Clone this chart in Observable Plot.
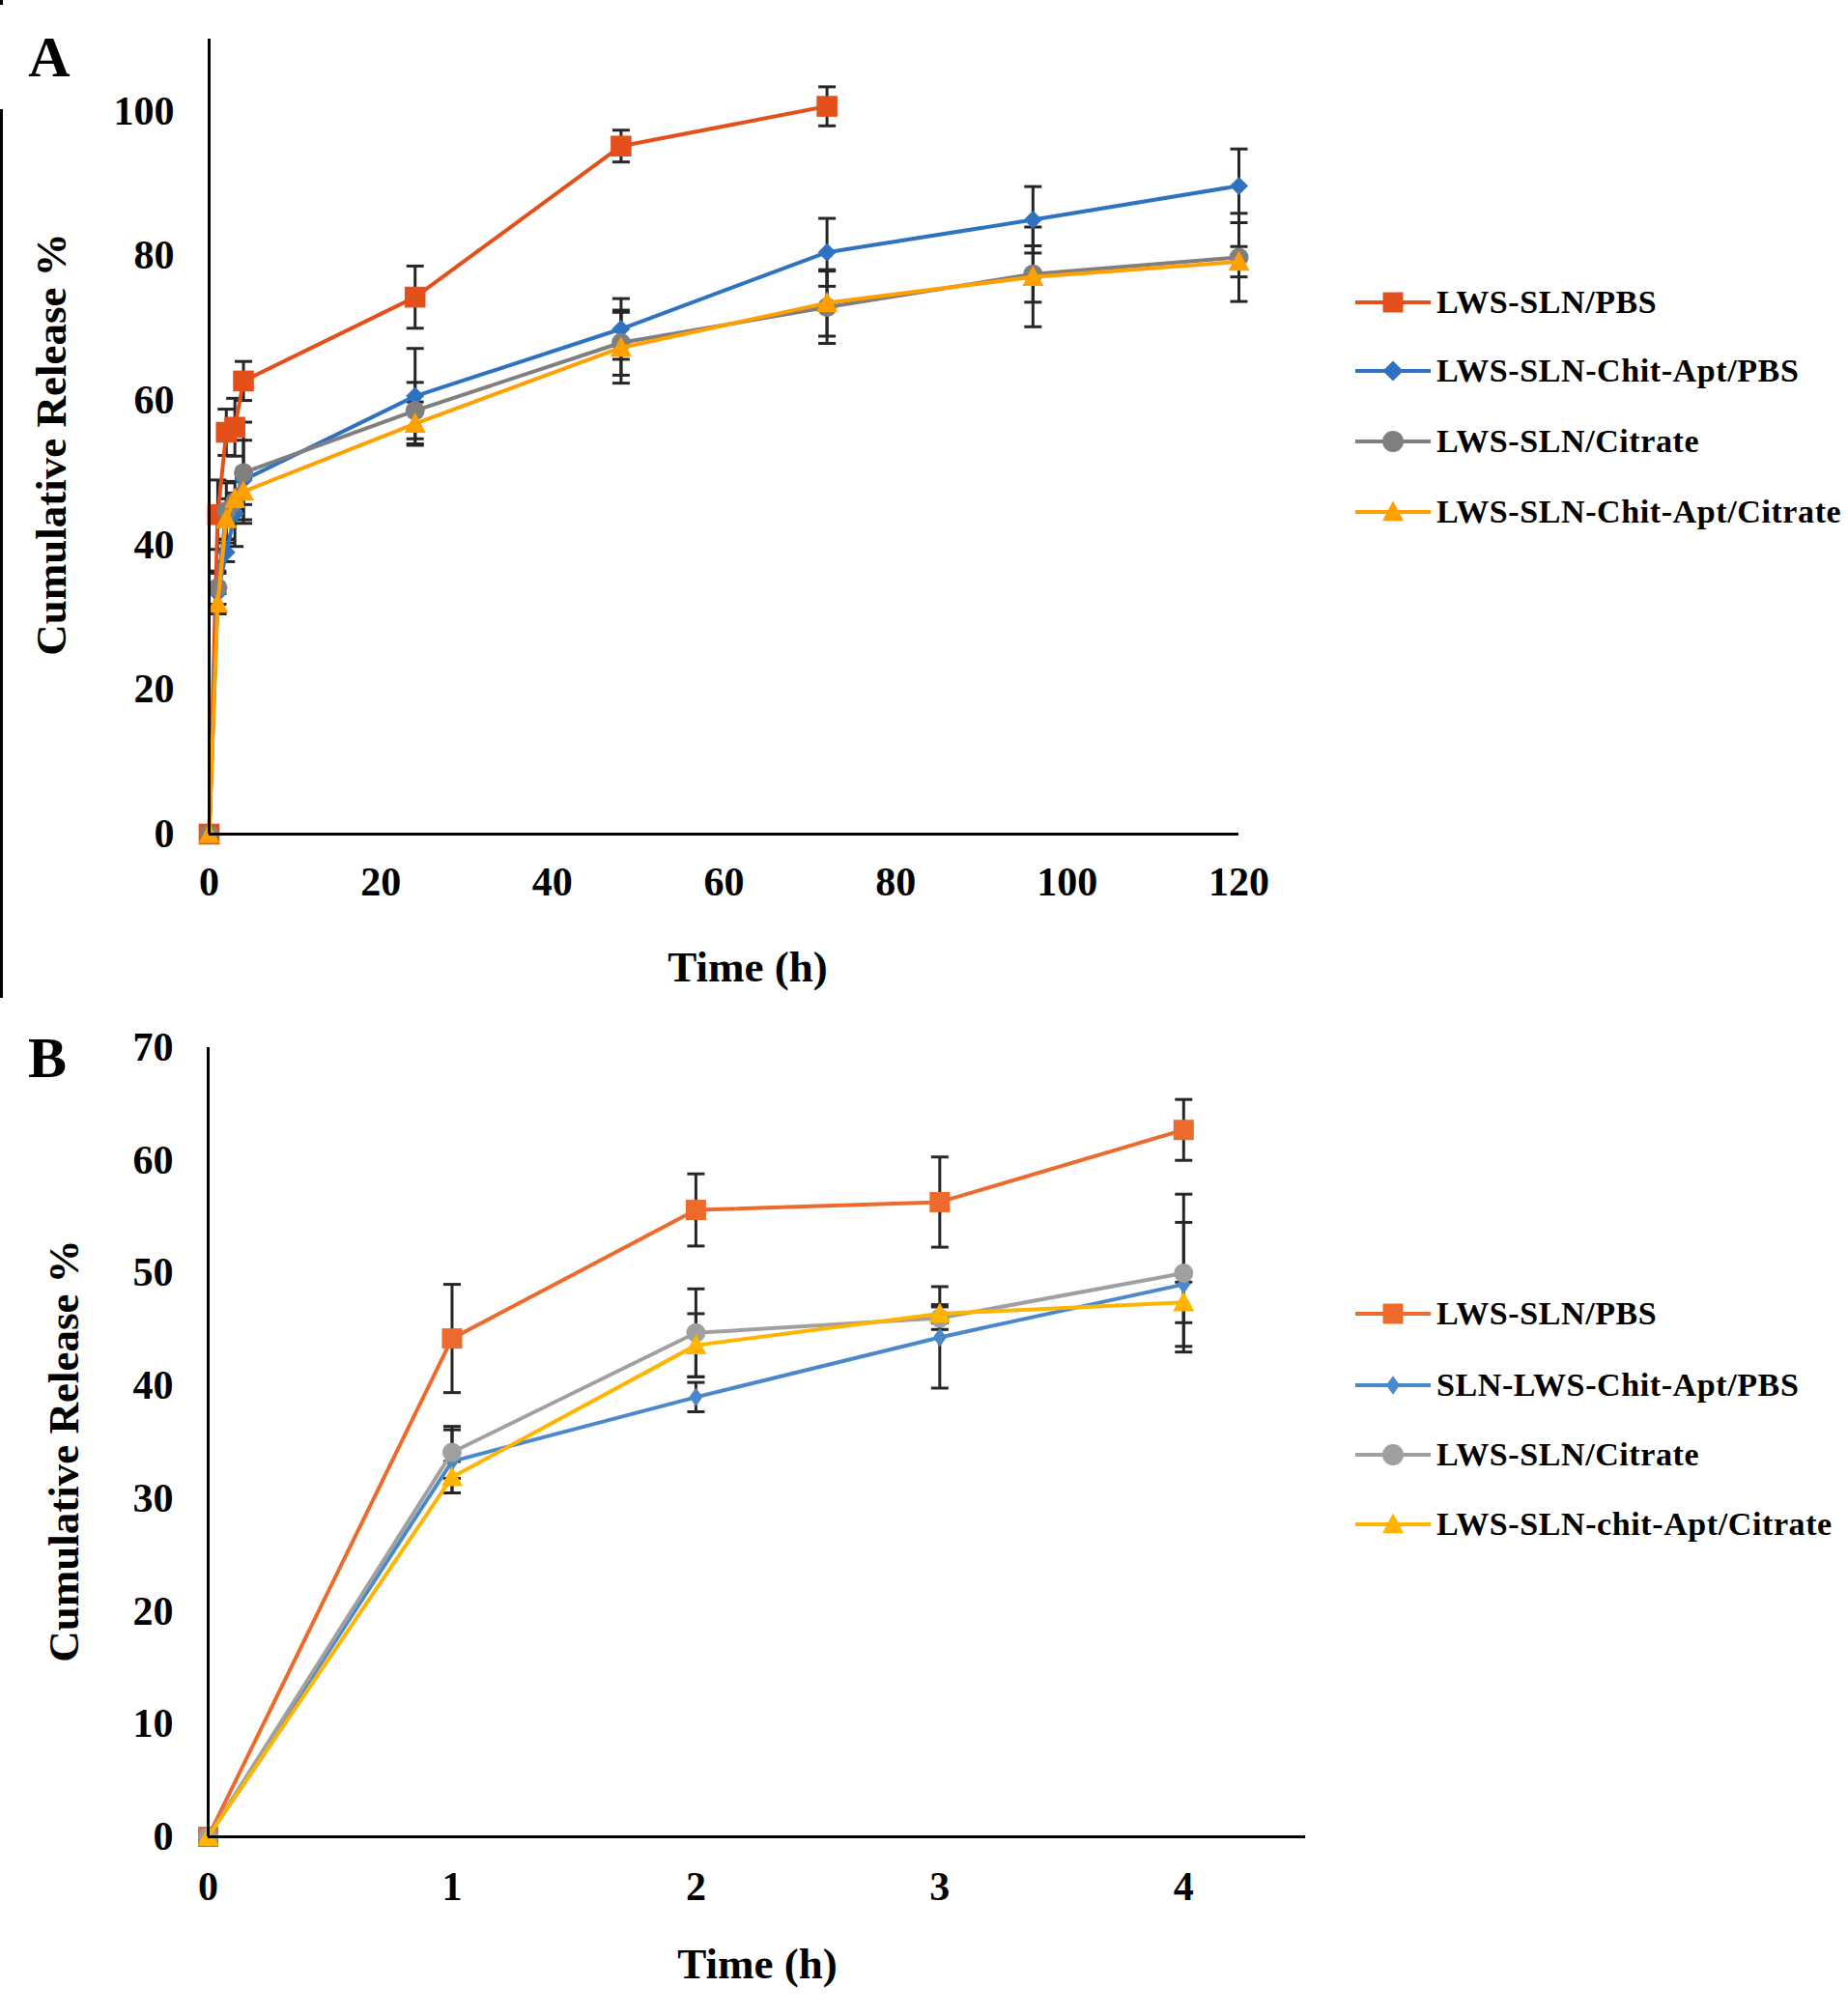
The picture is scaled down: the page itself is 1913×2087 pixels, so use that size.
<!DOCTYPE html>
<html>
<head>
<meta charset="utf-8">
<script src="https://cdn.jsdelivr.net/npm/d3@7"></script>
<script src="https://cdn.jsdelivr.net/npm/@observablehq/plot@0.6"></script>
<style>
  body { margin: 0; background: #fff; }
  #page { position: relative; width: 1913px; height: 2087px; overflow: hidden; background: #fff;
          font-family: "Liberation Serif", "Times New Roman", serif; font-weight: bold; color: #000; }
  .abs { position: absolute; }
  .ttl { position: absolute; white-space: nowrap; line-height: 1; font-size: 45px; }
  .leg { position: absolute; white-space: nowrap; line-height: 1; font-size: 34px; letter-spacing: 0.6px; transform: translateY(-50%); }
</style>
</head>
<body>
<div id="page"></div>
<script>
// ---------- data ----------
const timesA = [0, 1, 2, 3, 4, 24, 48, 72, 96, 120];
const timesB = [0, 1, 2, 3, 4];

const namesA = ["LWS-SLN/PBS", "LWS-SLN-Chit-Apt/PBS", "LWS-SLN/Citrate", "LWS-SLN-Chit-Apt/Citrate"];
const namesB = ["LWS-SLN/PBS", "SLN-LWS-Chit-Apt/PBS", "LWS-SLN/Citrate", "LWS-SLN-chit-Apt/Citrate"];

const slnPBS       = [0, 44.2, 55.6, 56.3, 62.7, 74.3, 95.2, 100.7];
const slnPBSErr    = [0, 4.8, 3.2, 4.0, 2.7, 4.3, 2.2, 2.7];
const aptPBS       = [0, 33.3, 39.0, 44.3, 49.0, 60.6, 69.9, 80.5, 85.0, 89.7];
const aptPBSErr    = [0, 2.8, 1.3, 4.5, 5.5, 6.6, 4.2, 4.7, 4.6, 5.1];
const slnCit       = [0, 34.1, 44.7, 46.0, 50.0, 58.6, 68.0, 72.9, 77.5, 79.8];
const slnCitErr    = [0, 2.3, 3.9, 1.0, 7.0, 3.9, 4.5, 5.0, 3.9, 6.1];
const aptCit       = [0, 31.9, 43.6, 46.4, 47.4, 56.8, 67.3, 73.5, 77.1, 79.2];
const aptCitErr    = [0, 1.4, 2.8, 0.8, 1.8, 3.0, 4.9, 4.6, 6.9, 2.1];

const yTicksA = [0, 20, 40, 60, 80, 100];
const xTicksA = [0, 20, 40, 60, 80, 100, 120];
const yTicksB = [0, 10, 20, 30, 40, 50, 60, 70];
const xTicksB = [0, 1, 2, 3, 4];

const colorsA = ["#E4501C", "#2F72C2", "#7F7F7F", "#FFA000"];
const colorsB = ["#EC6A2C", "#4A88CC", "#A0A0A0", "#FFB400"];
const errColor = "#262626";

// ---------- symbols ----------
const rad = (size) => Math.sqrt(size / Math.PI);
const symSquare = { draw(c, s) { const r = rad(s); c.rect(-r, -r, 2 * r, 2 * r); } };
const symDiamond = (k) => ({ draw(c, s) { const r = rad(s); c.moveTo(0, -r * k); c.lineTo(r, 0); c.lineTo(0, r * k); c.lineTo(-r, 0); c.closePath(); } });
const symCircle = { draw(c, s) { const r = rad(s); c.moveTo(r, 0); c.arc(0, 0, r, 0, 2 * Math.PI); } };
const symTri = { draw(c, s) { const r = rad(s); c.moveTo(0, -1.05 * r); c.lineTo(r, 0.85 * r); c.lineTo(-r, 0.85 * r); c.closePath(); } };
const symCap = { draw(c, s) { const r = rad(s); c.moveTo(-r, 0); c.lineTo(r, 0); } };

function rowsOf(times, vals, errs, si) {
  return vals.map((v, i) => ({ t: times[i], v, e: errs[i], s: si }));
}

const seriesVals = [slnPBS, aptPBS, slnCit, aptCit];
const seriesErrs = [slnPBSErr, aptPBSErr, slnCitErr, aptCitErr];

const rowsA = seriesVals.map((v, si) => rowsOf(timesA, v, seriesErrs[si], si));
const rowsB = seriesVals.map((v, si) => rowsOf(timesB, v.slice(0, timesB.length), seriesErrs[si].slice(0, timesB.length), si));

function panel(rows, colors, syms, radii, opt) {
  const marks = [];
  const all = rows.flat().filter(d => d.e > 0);
  marks.push(Plot.ruleX(all, { x: "t", y1: d => d.v - d.e, y2: d => d.v + d.e, stroke: errColor, strokeWidth: 3 }));
  marks.push(Plot.dot(all, { x: "t", y: d => d.v + d.e, symbol: symCap, r: 9, fill: "none", stroke: errColor, strokeWidth: 3 }));
  marks.push(Plot.dot(all, { x: "t", y: d => d.v - d.e, symbol: symCap, r: 9, fill: "none", stroke: errColor, strokeWidth: 3 }));
  rows.forEach((r, si) => {
    marks.push(Plot.line(r, { x: "t", y: "v", stroke: colors[si], strokeWidth: 4 }));
    marks.push(Plot.dot(r, { x: "t", y: "v", symbol: syms[si], r: radii[si], fill: colors[si], stroke: "none" }));
  });
  marks.push(Plot.ruleX([0], { stroke: "#000", strokeWidth: 3 }));
  marks.push(Plot.ruleY([0], { stroke: "#000", strokeWidth: 3 }));
  marks.push(Plot.axisX({ ticks: opt.xTicks, tickSize: 0, tickPadding: opt.xPad, tickFormat: d3.format("d"), label: null }));
  marks.push(Plot.axisY({ ticks: opt.yTicks, tickSize: 0, tickPadding: 36, tickFormat: d3.format("d"), label: null }));
  return Plot.plot({
    width: 1913,
    height: opt.height,
    marginLeft: opt.ml, marginRight: opt.mr, marginTop: opt.mt, marginBottom: opt.mb,
    x: { domain: opt.xDomain },
    y: { domain: opt.yDomain },
    style: { fontFamily: "'Liberation Serif', 'Times New Roman', serif", fontSize: "42px", fontWeight: "bold", color: "#000", background: "transparent", overflow: "visible", maxWidth: "none" },
    marks
  });
}

const page = document.getElementById("page");

const symsA = [symSquare, symDiamond(1), symCircle, symTri];
const radiiA = [10.8, 9.5, 10, 11];
const symsB = [symSquare, symDiamond(1.4), symCircle, symTri];
const radiiB = [10.5, 7, 10, 11];

const plotA = panel(rowsA, colorsA, symsA, radiiA,
  { height: 1040, ml: 216, mr: 631, mt: 40, mb: 177, xDomain: [0, 120], yDomain: [0, 110], xTicks: xTicksA, yTicks: yTicksA, xPad: 34 });
const plotB = panel(rowsB, colorsB, symsB, radiiB,
  { height: 1047, ml: 215, mr: 562, mt: 44, mb: 186, xDomain: [0, 4.5], yDomain: [0, 70], xTicks: xTicksB, yTicks: yTicksB, xPad: 36 });

const wrapA = document.createElement("div"); wrapA.className = "abs"; wrapA.style.left = "0px"; wrapA.style.top = "0px";
wrapA.appendChild(plotA); page.appendChild(wrapA);
const wrapB = document.createElement("div"); wrapB.className = "abs"; wrapB.style.left = "0px"; wrapB.style.top = "1040px";
wrapB.appendChild(plotB); page.appendChild(wrapB);

// ---------- titles ----------
function addText(txt, cls, x, y, extra) {
  const d = document.createElement("div");
  d.className = cls; d.textContent = txt;
  d.style.left = x + "px"; d.style.top = y + "px";
  d.style.transform = extra || "translate(-50%,-50%)";
  page.appendChild(d);
  return d;
}
addText("Time (h)", "ttl", 774, 1001);
addText("Cumulative Release %", "ttl", 53, 460, "translate(-50%,-50%) rotate(-90deg)");
addText("Time (h)", "ttl", 784, 2033);
addText("Cumulative Release %", "ttl", 66, 1502, "translate(-50%,-50%) rotate(-90deg)");
const la = addText("A", "ttl", 51, 59); la.style.fontSize = "60px";
const lb = addText("B", "ttl", 49, 1095); lb.style.fontSize = "60px";

// ---------- legends ----------
function legend(names, colors, syms, radii, ys) {
  names.forEach((n, i) => {
    const svg = d3.create("svg").attr("width", 90).attr("height", 40)
      .style("position", "absolute").style("left", "1397px").style("top", (ys[i] - 20) + "px");
    svg.append("line").attr("x1", 6).attr("x2", 84).attr("y1", 20).attr("y2", 20)
      .attr("stroke", colors[i]).attr("stroke-width", 4);
    svg.append("path").attr("transform", "translate(45,20)")
      .attr("d", d3.symbol().type(syms[i]).size(Math.PI * radii[i] * radii[i])())
      .attr("fill", colors[i]);
    page.appendChild(svg.node());
    const t = document.createElement("div");
    t.className = "leg"; t.textContent = n;
    t.style.left = "1487px"; t.style.top = ys[i] + "px";
    page.appendChild(t);
  });
}
legend(namesA, colorsA, symsA, [10.5, 10.5, 11, 11], [313, 384, 457, 530]);
legend(namesB, colorsB, symsB, [10.5, 7, 11, 11], [1360, 1434, 1506, 1578]);

// left border fragments of the original figure
const bl = document.createElement("div"); bl.className = "abs";
Object.assign(bl.style, { left: "0px", top: "113px", width: "3px", height: "920px", background: "#000" });
page.appendChild(bl);
const bt = document.createElement("div"); bt.className = "abs";
Object.assign(bt.style, { left: "0px", top: "0px", width: "3px", height: "5px", background: "#000" });
page.appendChild(bt);
</script>
</body>
</html>
